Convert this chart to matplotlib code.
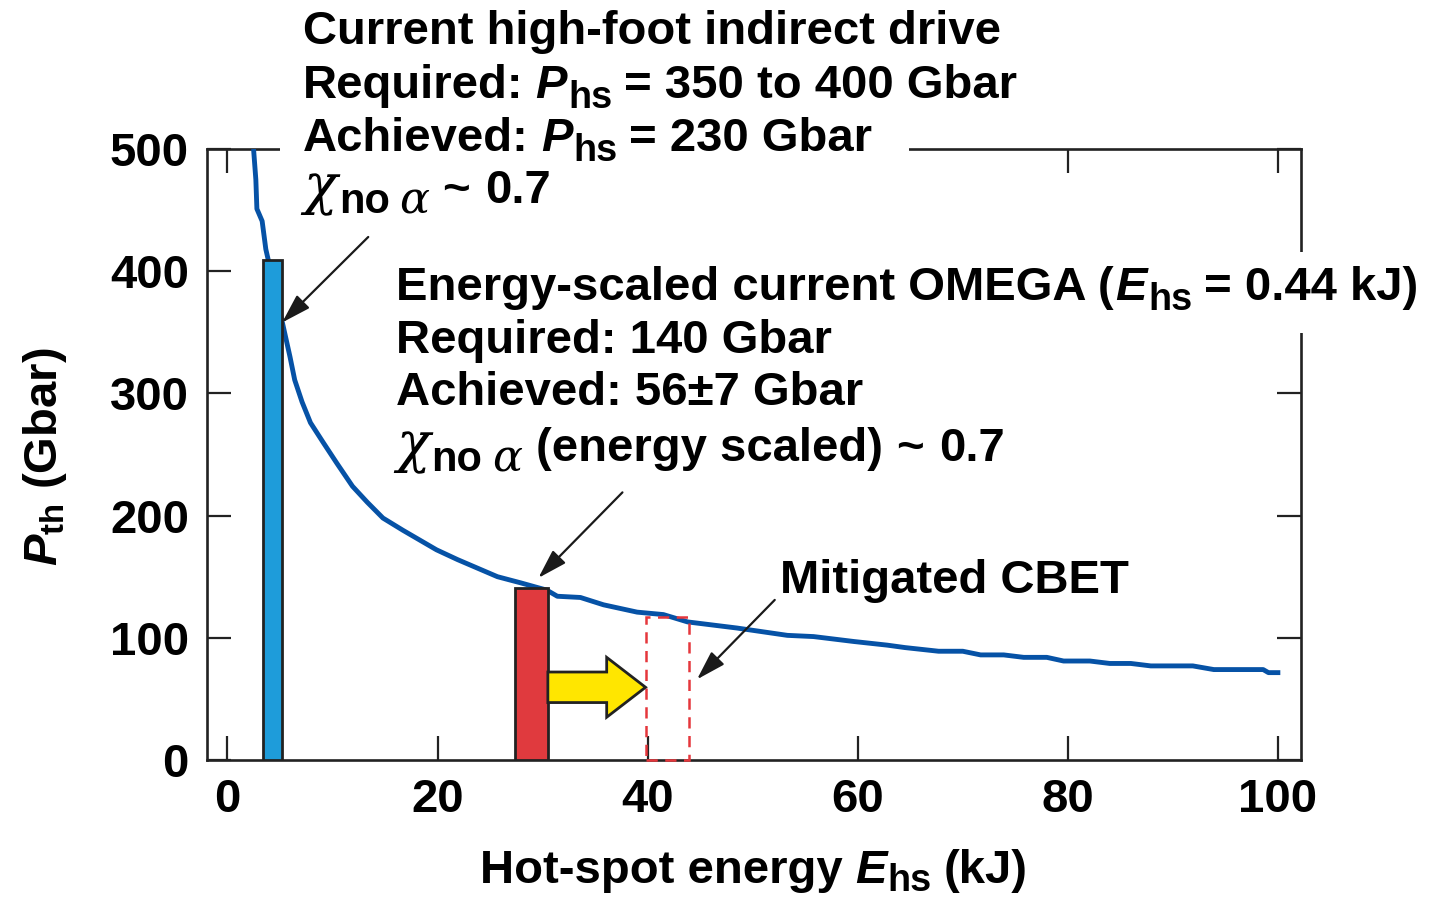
import matplotlib
matplotlib.use("Agg")
import matplotlib.pyplot as plt
from matplotlib.patches import Rectangle

# ---------------- data ----------------
curve_E = [2.5, 2.7, 2.8, 3.3, 3.65, 5.2, 5.95, 6.4, 7.1, 7.9, 9.1, 10.4, 11.9, 13.3, 14.8,
           16.7, 17.7, 19.9, 21.9, 23.8, 25.7, 27.9, 30.4, 31.4, 33.6, 35.8, 39.0,
           41.5, 43.8, 48.5, 53.3, 55.8, 59.6, 62.8, 64.5, 67.7, 70.0, 71.7, 73.9,
           75.8, 78.0, 79.6, 82.1, 84.0, 86.0, 87.9, 91.9, 93.9, 98.6, 99.1, 100.0]
curve_P = [498, 475, 451, 441, 418, 359, 330, 311, 293, 276, 260, 243, 224, 211, 198,
           188, 183, 172, 164, 157, 150, 145, 139, 134, 133, 127, 121,
           119, 113, 108, 102, 101, 97, 94, 92, 89, 89, 86, 86,
           84, 84, 81, 81, 79, 79, 77, 77, 74, 74, 71.5, 71.5]

indirect_bar = dict(left=3.4, width=1.8, height=409)
omega_bar = dict(left=27.4, width=3.1, height=141)
cbet_box = dict(left=39.8, width=4.1, height=117)
push_arrow = dict(x0=30.5, x1=39.8, y=59.5, shaft=25, head=49, head_len=3.7)

x_ticks = [0, 20, 40, 60, 80, 100]
y_ticks = [0, 100, 200, 300, 400, 500]

# ---------------- style ----------------
plt.rcParams['font.family'] = ['Liberation Sans', 'DejaVu Sans']
plt.rcParams['font.weight'] = 'bold'
plt.rcParams['mathtext.fontset'] = 'custom'
plt.rcParams['mathtext.rm'] = 'Liberation Sans:bold'
plt.rcParams['mathtext.bf'] = 'Liberation Sans:bold'
plt.rcParams['mathtext.it'] = 'Liberation Sans:italic:bold'

W, H = 1432, 898
fig = plt.figure(figsize=(W / 100, H / 100), dpi=100)
ax = fig.add_axes([207 / W, 1 - 760 / H, (1301 - 207) / W, (760 - 149) / H])

EDGE = '#222222'
FS = 34
ax.set_xlim(-1.95, 102.2)
ax.set_ylim(0, 500)
ax.set_xticks(x_ticks)
ax.set_yticks(y_ticks)
for s in ax.spines.values():
    s.set_linewidth(1.9)
    s.set_color(EDGE)
ax.tick_params(direction='in', length=17, width=1.6, color=EDGE, top=True, right=True,
               labelsize=FS)
ax.tick_params(axis='x', pad=13)
ax.tick_params(axis='y', pad=13)
for lab in ax.get_xticklabels() + ax.get_yticklabels():
    lab.set_fontweight('bold')

# curve
ax.plot(curve_E, curve_P, color='#0652A6', lw=3.5, zorder=3, solid_joinstyle='round')

# bars
ax.bar(indirect_bar['left'], indirect_bar['height'], width=indirect_bar['width'], align='edge',
       color='#1E9CDA', edgecolor=EDGE, linewidth=2, zorder=4)
ax.bar(omega_bar['left'], omega_bar['height'], width=omega_bar['width'], align='edge',
       color='#E03A3E', edgecolor=EDGE, linewidth=2, zorder=4)
ax.bar(cbet_box['left'], cbet_box['height'], width=cbet_box['width'], align='edge',
       fill=False, edgecolor='#E5373C', linewidth=1.8, linestyle=(0, (4.5, 3)), zorder=4,
       clip_on=False)

# yellow arrow
ax.arrow(push_arrow['x0'], push_arrow['y'], push_arrow['x1'] - push_arrow['x0'], 0,
         width=push_arrow['shaft'], head_width=push_arrow['head'],
         head_length=push_arrow['head_len'], length_includes_head=True,
         fc='#FFE600', ec=EDGE, lw=2, zorder=5)

# annotation arrows
arrow_kw = dict(arrowstyle='-|>,head_length=1.8,head_width=0.55', color='#1a1a1a', lw=1.6,
                shrinkA=0, shrinkB=0)
ax.annotate('', xy=(5.2, 358), xytext=(13.4, 428), arrowprops=arrow_kw, zorder=6)
ax.annotate('', xy=(29.6, 149), xytext=(37.6, 219), arrowprops=arrow_kw, zorder=6)
ax.annotate('', xy=(44.7, 66), xytext=(52.1, 131), arrowprops=arrow_kw, zorder=6)

# white gaps in frame behind text
fig.add_artist(Rectangle((280 / W, 1 - 180 / H), (909 - 280) / W, 45 / H,
                         transform=fig.transFigure, color='white', zorder=5, lw=0))
fig.add_artist(Rectangle((1200 / W, 1 - 333 / H), (W - 1200) / W, (333 - 252) / H,
                         transform=fig.transFigure, color='white', zorder=5, lw=0))

renderer = fig.canvas.get_renderer()
SP = 12  # space width in px


def run(px, py, items, ha='left'):
    """Draw a sequence of text pieces on a common baseline (pixel coords from top-left)."""
    arts = []
    total = 0
    for s, kw in items:
        kw = dict(kw)
        gap = kw.pop('gap', SP)
        dy = kw.pop('dy', 0)
        size = kw.pop('size', FS)
        kw.setdefault('fontweight', 'bold')
        t = fig.text(0, 0, s, fontsize=size, va='baseline', ha='left', zorder=10, **kw)
        w = t.get_window_extent(renderer).width
        arts.append((t, total, dy))
        total += w + gap
    total -= items[-1][1].get('gap', SP) if items else 0
    x0 = px - (total / 2 if ha == 'center' else 0)
    for t, off, dy in arts:
        t.set_position(((x0 + off) / W, 1 - (py + dy) / H))


IT = dict(fontstyle='italic')
SUB = dict(size=FS * 0.8, dy=10)
GREEK = dict(family='DejaVu Serif', fontstyle='italic', fontweight='normal')
CHI = ('\u03c7', dict(GREEK, size=40, gap=2))
NO = ('no', dict(size=30, dy=10, gap=10))

# block 1
run(303, 44, [('Current high-foot indirect drive', {})])
run(303, 98, [('Required:', {}), ('P', dict(IT, gap=1)), ('hs', SUB),
              ('= 350 to 400 Gbar', {})])
run(303, 151, [('Achieved:', {}), ('P', dict(IT, gap=1)), ('hs', SUB),
               ('= 230 Gbar', {})])
run(303, 203, [CHI, NO, ('\u03b1', dict(GREEK, size=32, dy=10, gap=13)),
               ('~', dict(gap=15)), ('0.7', {})])
# block 2
run(396, 300, [('Energy-scaled current OMEGA (', dict(gap=2)), ('E', dict(IT, gap=1)),
               ('hs', SUB), ('= 0.44 kJ)', {})])
run(396, 353, [('Required: 140 Gbar', {})])
run(396, 405, [('Achieved: 56\u00b17 Gbar', {})])
run(396, 461, [CHI, NO, ('\u03b1', dict(GREEK, size=32, dy=10, gap=13)),
               ('(energy scaled)', dict(gap=14)), ('~', dict(gap=15)), ('0.7', {})])
# block 3
run(780, 593, [('Mitigated CBET', {})])

# axis labels
run(754, 883, [('Hot-spot energy', {}), ('E', dict(IT, gap=1)), ('hs', dict(SUB, dy=8)),
               ('(kJ)', {})], ha='center')
fig.text(45 / W, 1 - 457 / H, r'$P_{\mathrm{th}}$ (Gbar)', fontsize=FS, fontweight='bold',
         ha='center', va='center', rotation=90, zorder=10)

fig.savefig('out.png', dpi=100)
